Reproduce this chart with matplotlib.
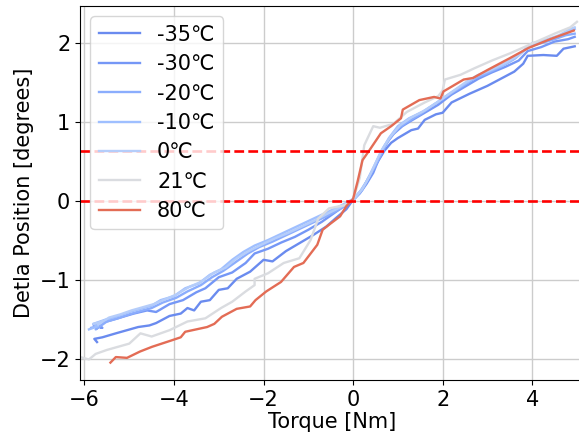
import matplotlib
matplotlib.use('Agg')
import matplotlib.pyplot as plt
from matplotlib.colors import Normalize

# temperatures of each measurement run
temps = [-35, -30, -20, -10, 0, 21, 80]
labels = ['-35℃', '-30℃', '-20℃', '-10℃', '0℃', '21℃', '80℃']

# torque [Nm] and delta position [deg] for every temperature
torque_m35 = [-5.72, -5.78, -5.6, -5.3, -5.05, -4.8, -4.55, -4.4, -4.1, -3.85, -3.7, -3.55, -3.4, -3.2, -3.0,
              -2.8, -2.6, -2.3, -2.0, -1.8, -1.5, -1.2, -0.9, -0.6, -0.4, -0.15, 0.0, 0.2, 0.4, 0.55, 0.7,
              0.85, 1.0, 1.3, 1.45, 1.6, 1.85, 2.0, 2.2, 2.6, 3.0, 3.3, 3.6, 3.8, 3.9, 4.25, 4.55, 4.7, 4.95]
delta_m35 = [-1.78, -1.74, -1.72, -1.67, -1.63, -1.59, -1.57, -1.54, -1.45, -1.42, -1.35, -1.38, -1.27, -1.25, -1.12,
             -1.1, -0.98, -0.89, -0.74, -0.76, -0.63, -0.53, -0.43, -0.32, -0.22, -0.1, 0.02, 0.15, 0.35, 0.5, 0.64,
             0.74, 0.8, 0.9, 0.92, 1.03, 1.1, 1.12, 1.25, 1.36, 1.46, 1.55, 1.64, 1.74, 1.84, 1.85, 1.84, 1.93, 1.96]

torque_m30 = [-5.75, -5.6, -5.8, -5.5, -5.2, -4.9, -4.6, -4.4, -4.1, -3.8, -3.5, -3.3, -3.0, -2.7, -2.4, -2.2,
              -1.9, -1.6, -1.3, -1.0, -0.7, -0.45, -0.2, 0.0, 0.15, 0.3, 0.45, 0.55, 0.7, 0.9, 1.1, 1.3, 1.6,
              1.9, 2.2, 2.5, 2.8, 3.1, 3.4, 3.7, 3.9, 4.2, 4.5, 4.8, 4.95]
delta_m30 = [-1.58, -1.6, -1.56, -1.52, -1.47, -1.42, -1.38, -1.4, -1.3, -1.25, -1.15, -1.1, -0.96, -0.9, -0.78, -0.66,
             -0.6, -0.52, -0.45, -0.36, -0.26, -0.16, -0.06, 0.02, 0.1, 0.22, 0.36, 0.5, 0.7, 0.85, 0.95, 1.02, 1.12,
             1.22, 1.35, 1.45, 1.55, 1.63, 1.7, 1.78, 1.9, 1.95, 2.02, 2.05, 2.08]

torque_m20 = [-5.85, -5.65, -5.75, -5.5, -5.25, -5.0, -4.7, -4.5, -4.25, -3.95, -3.7, -3.4, -3.15, -2.9, -2.6,
              -2.35, -2.1, -1.8, -1.5, -1.2, -0.9, -0.6, -0.3, -0.1, 0.05, 0.2, 0.35, 0.5, 0.65, 0.8, 1.0, 1.2,
              1.5, 1.8, 2.1, 2.4, 2.7, 3.0, 3.3, 3.6, 3.9, 4.2, 4.5, 4.75, 4.95]
delta_m20 = [-1.6, -1.57, -1.62, -1.52, -1.48, -1.43, -1.38, -1.35, -1.28, -1.22, -1.14, -1.06, -0.96, -0.88, -0.76,
             -0.66, -0.58, -0.51, -0.43, -0.35, -0.27, -0.19, -0.1, -0.03, 0.04, 0.14, 0.3, 0.45, 0.62, 0.78, 0.92, 1.0,
             1.1, 1.22, 1.33, 1.44, 1.55, 1.62, 1.7, 1.8, 1.95, 2.0, 2.05, 2.1, 2.12]

torque_m10 = [-5.9, -5.7, -5.8, -5.55, -5.3, -5.0, -4.75, -4.5, -4.3, -4.0, -3.75, -3.45, -3.2, -2.95, -2.7,
              -2.45, -2.2, -1.9, -1.6, -1.3, -1.0, -0.7, -0.4, -0.15, 0.0, 0.15, 0.3, 0.45, 0.6, 0.8, 1.0, 1.25,
              1.55, 1.85, 2.15, 2.45, 2.75, 3.05, 3.35, 3.65, 3.95, 4.25, 4.55, 4.8, 4.95]
delta_m10 = [-1.62, -1.58, -1.55, -1.5, -1.46, -1.4, -1.36, -1.32, -1.25, -1.2, -1.1, -1.04, -0.93, -0.86, -0.74,
             -0.64, -0.56, -0.49, -0.41, -0.33, -0.25, -0.17, -0.09, -0.02, 0.03, 0.12, 0.25, 0.42, 0.6, 0.8, 0.95, 1.05,
             1.13, 1.24, 1.36, 1.47, 1.58, 1.65, 1.72, 1.82, 1.98, 2.03, 2.08, 2.15, 2.18]

torque_0 = [-5.8, -5.6, -5.7, -5.45, -5.2, -4.95, -4.7, -4.45, -4.2, -3.95, -3.65, -3.4, -3.1, -2.85, -2.6,
            -2.3, -2.05, -1.75, -1.45, -1.15, -0.85, -0.55, -0.3, -0.1, 0.05, 0.2, 0.35, 0.5, 0.65, 0.85, 1.05,
            1.3, 1.6, 1.9, 2.2, 2.5, 2.8, 3.1, 3.4, 3.7, 4.0, 4.3, 4.6, 4.85, 4.95]
delta_0 = [-1.55, -1.52, -1.56, -1.47, -1.43, -1.38, -1.34, -1.3, -1.24, -1.18, -1.08, -1.02, -0.9, -0.84, -0.72,
           -0.62, -0.55, -0.47, -0.4, -0.32, -0.24, -0.15, -0.08, -0.02, 0.05, 0.15, 0.3, 0.48, 0.66, 0.83, 0.96,
           1.06, 1.15, 1.26, 1.38, 1.5, 1.6, 1.67, 1.75, 1.85, 2.0, 2.04, 2.1, 2.18, 2.2]

torque_21 = [-6.1, -5.9, -5.75, -5.5, -5.0, -4.75, -4.5, -4.1, -3.7, -3.3, -2.95, -2.7, -2.4, -2.2, -2.2,
             -1.9, -1.55, -1.2, -0.95, -0.78, -0.54, -0.2, 0.0, 0.15, 0.25, 0.45, 0.6, 0.9, 1.2, 1.6, 1.9, 2.0,
             2.05, 2.4, 2.7, 3.1, 3.5, 4.1, 4.5, 4.85, 5.0]
delta_21 = [-1.97, -2.0, -1.93, -1.88, -1.8, -1.67, -1.71, -1.63, -1.52, -1.48, -1.35, -1.27, -1.14, -1.06, -0.98,
            -0.91, -0.78, -0.72, -0.49, -0.22, -0.09, -0.05, 0.02, 0.3, 0.71, 0.95, 0.93, 0.98, 1.13, 1.25, 1.33,
            1.4, 1.54, 1.6, 1.68, 1.78, 1.87, 2.02, 2.12, 2.2, 2.27]

torque_80 = [-5.42, -5.3, -5.05, -4.76, -4.49, -4.06, -3.85, -3.75, -3.26, -3.1, -2.93, -2.6, -2.3, -2.18,
             -1.94, -1.61, -1.32, -1.11, -0.8, -0.68, -0.5, -0.29, -0.15, 0.0, 0.1, 0.21, 0.37, 0.62, 0.85, 1.07,
             1.11, 1.48, 1.81, 1.95, 2.02, 2.47, 2.68, 3.0, 3.5, 3.92, 4.4, 4.93]
delta_80 = [-2.04, -1.97, -1.98, -1.9, -1.84, -1.76, -1.72, -1.65, -1.59, -1.55, -1.46, -1.36, -1.33, -1.25,
            -1.14, -1.02, -0.83, -0.78, -0.55, -0.36, -0.28, -0.19, -0.06, 0.03, 0.25, 0.52, 0.65, 0.86, 0.95, 1.05,
            1.16, 1.28, 1.32, 1.3, 1.39, 1.54, 1.56, 1.66, 1.81, 1.94, 2.05, 2.16]

torques = [torque_m35, torque_m30, torque_m20, torque_m10, torque_0, torque_21, torque_80]
deltas = [delta_m35, delta_m30, delta_m20, delta_m10, delta_0, delta_21, delta_80]

# dead-band limits
limits = [0.0, 0.63]

norm = Normalize(vmin=-60, vmax=105)
cmap = plt.cm.coolwarm

fig = plt.figure(figsize=(5.79, 4.38), dpi=100)
ax = fig.add_axes([80 / 579, 58 / 438, 505 / 579, 374 / 438])

for t, lab, x, y in zip(temps, labels, torques, deltas):
    ax.plot(x, y, color=cmap(norm(t)), lw=1.7, label=lab)

for lim in limits:
    ax.axhline(lim, color='red', ls='--', lw=1.9)

ax.set_xlim(-6.10, 5.18)
ax.set_ylim(-2.26, 2.47)
ax.set_xticks([-6, -4, -2, 0, 2, 4])
ax.set_yticks([-2, -1, 0, 1, 2])
ax.grid(True, color='#cccccc', lw=1)
ax.tick_params(labelsize=15)
ax.set_xlabel('Torque [Nm]', fontsize=15, labelpad=2)
ax.set_ylabel('Detla Position [degrees]', fontsize=15)
ax.legend(loc='upper left', prop={'family': ['DejaVu Sans', 'Noto Sans CJK SC'], 'size': 15},
          labelspacing=0.45)

fig.savefig('out.png', dpi=100)
